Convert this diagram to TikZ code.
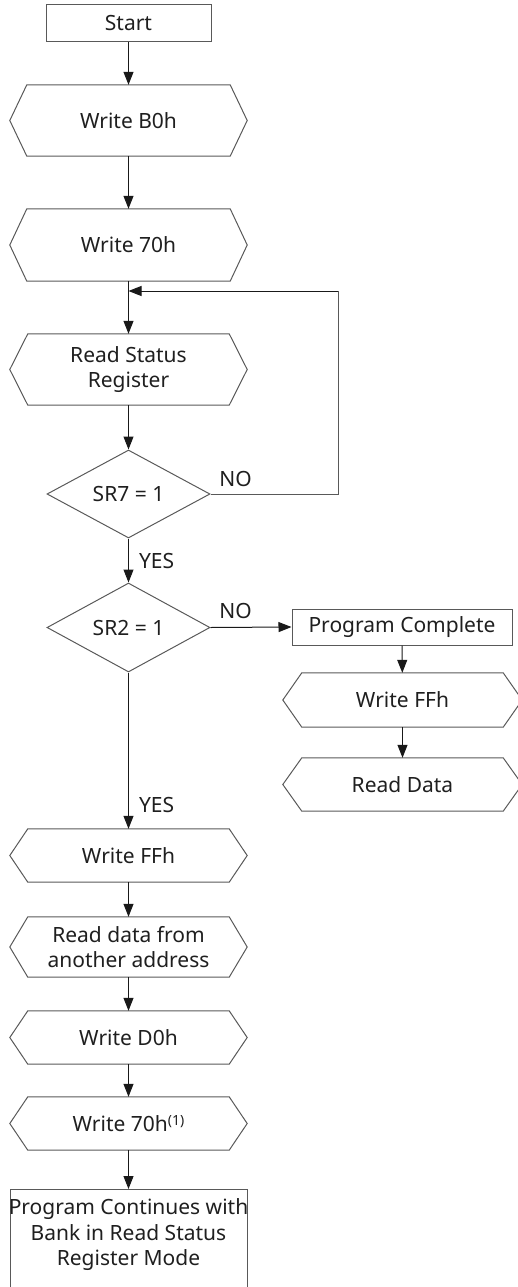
\documentclass[tikz,border=0pt]{standalone}
\usepackage{fontspec}
\setmainfont{Noto Sans}
\usetikzlibrary{shapes.geometric,arrows.meta,calc}
\begin{document}
\begin{tikzpicture}[x=1pt,y=-1pt,
  txt/.style={font=\fontsize{21}{25.5}\selectfont, text=black!88, align=center},
  boxn/.style={txt, draw=black!65, line width=1pt, inner sep=0pt, rectangle},
  hexa/.style={txt, inner sep=0pt, minimum width=237pt, rectangle,
    append after command={\pgfextra{\let\hn\tikzlastnode
      \draw[draw=black!65, line width=1pt] (\hn.west) -- ([xshift=#1]\hn.north west) -- ([xshift=-#1]\hn.north east) -- (\hn.east) -- ([xshift=-#1]\hn.south east) -- ([xshift=#1]\hn.south west) -- cycle;}}},
  dia/.style={txt, diamond, draw=black!65, line width=1pt, inner sep=0pt, minimum width=163pt, minimum height=88pt},
  conn/.style={draw=black!90, line width=1pt, -{Triangle[length=13pt,width=10pt]}},
  lbl/.style={font=\fontsize{21}{24}\selectfont, text=black!88, inner sep=0pt}
]
\useasboundingbox (0,0) rectangle (518,1287);
\clip (0,0) rectangle (518,1287);

\node[boxn, minimum width=165pt, minimum height=37pt] (start) at (128.5,23.5) {Start};
\node[hexa=17pt, minimum height=71pt] (b0) at (128.5,120.5) {Write B0h};
\node[hexa=17pt, minimum height=72pt] (w70) at (128.5,245) {Write 70h};
\coordinate (j) at (128.5,291);
\node[hexa=18pt, minimum height=71pt] (rsr) at (128.5,369.5) {Read Status\\Register};
\node[dia] (sr7) at (128.5,494) {SR7 = 1};
\node[dia, minimum height=89pt] (sr2) at (128.5,627.5) {SR2 = 1};
\node[boxn, minimum width=220pt, minimum height=36pt] (pc) at (402,627) {Program Complete};
\node[hexa=19pt, minimum width=239pt, minimum height=54pt] (wffr) at (402.5,700) {Write FFh};
\node[hexa=19pt, minimum width=239pt, minimum height=53pt] (rd) at (402.5,784.5) {Read Data};
\node[hexa=18pt, minimum height=53pt] (wffl) at (128.5,855.5) {Write FFh};
\node[hexa=18pt, minimum height=60pt] (rdfa) at (128.5,947) {Read data from\\another address};
\node[hexa=18pt, minimum height=53pt] (d0) at (128.5,1037.5) {Write D0h};
\node[hexa=18pt, minimum height=53pt] (w70b) at (128.5,1123.5) {Write 70h\raisebox{6.5pt}{\fontsize{14}{14}\selectfont(1)}};
\node[txt, draw=black!65, line width=1pt, inner sep=0pt, minimum width=237pt, minimum height=112pt, anchor=north] (pcont) at (128.5,1189) {};
\node[txt, anchor=north] (pconttxt) at (128.5,1195) {Program Continues with\\Bank in Read Status\\Register Mode};
\coordinate (lc1) at (338,494);
\coordinate (lc2) at (338,291);

\draw[conn] (start) -- (b0);
\draw[conn] (b0) -- (w70);
\draw[conn] (w70) -- (rsr);
\draw[conn] (rsr) -- (sr7);
\draw[conn] (sr7) -- node[lbl, pos=0.5, right=10pt] {YES} (sr2);
\draw[conn] (sr2) -- node[lbl, pos=0.85, right=10pt] {YES} (wffl);
\draw[conn] (wffl) -- (rdfa);
\draw[conn] (rdfa) -- (d0);
\draw[conn] (d0) -- (w70b);
\draw[conn] (w70b) -- (pcont);
\draw[draw=black!65, line width=1pt] (sr7.east) -- (lc1) -- (lc2);
\draw[conn] (lc2) -- (j);
\draw[conn] (sr2.east) -- (pc.west);
\draw[conn] (pc) -- (wffr);
\draw[conn] (wffr) -- (rd);
\node[lbl] (no1) at (235.5,478.5) {NO};
\node[lbl] (no2) at (235.5,610.5) {NO};
\end{tikzpicture}
\end{document}
